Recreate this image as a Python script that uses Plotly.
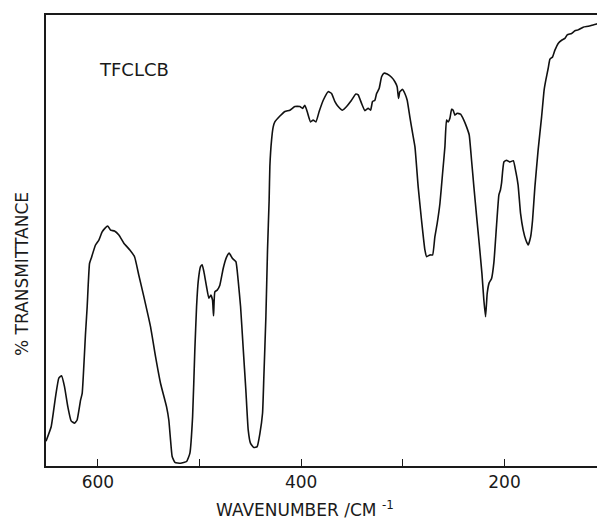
import plotly.graph_objects as go

wavenumber = [651.0, 645.9, 641.6, 638.4, 635.7, 632.8, 629.5, 626.3, 622.9, 620.4,
              617.0, 615.4, 612.1, 610.5, 608.2, 606.6, 602.3, 599.0, 595.8, 593.1,
              590.2, 587.5, 583.6, 579.3, 574.4, 568.5, 563.9, 559.7, 554.7, 548.2,
              543.2, 538.3, 532.4, 530.2, 528.5, 526.9, 524.2, 518.6, 512.7, 509.5,
              506.8, 504.6, 502.9, 501.3, 499.0, 497.4, 495.7, 493.1, 490.8, 488.8,
              487.2, 486.2, 484.9, 482.6, 480.0, 476.7, 473.4, 470.8, 467.5, 464.2,
              462.0, 459.6, 457.1, 454.4, 452.1, 449.8, 446.5, 443.3, 440.6, 438.0,
              436.7, 434.7, 433.1, 431.5, 430.8, 429.1, 427.5, 425.9, 420.9, 416.0,
              411.1, 406.2, 401.3, 398.6, 396.4, 394.1, 390.8, 388.2, 385.5, 382.3,
              378.3, 373.4, 370.1, 366.8, 363.6, 359.3, 355.3, 351.4, 346.2, 343.9,
              340.6, 337.3, 334.1, 331.7, 329.8, 327.5, 325.8, 323.3, 320.9, 318.6,
              315.4, 311.1, 307.8, 305.6, 304.2, 302.9, 300.2, 298.0, 295.7, 293.1,
              290.4, 288.1, 284.9, 281.6, 278.3, 276.6, 273.4, 270.7, 268.5, 266.2,
              263.5, 260.9, 258.6, 257.0, 255.4, 253.7, 252.0, 250.5, 248.8, 246.5,
              243.2, 240.0, 237.3, 234.7, 232.4, 230.1, 227.4, 224.9, 222.2, 220.3,
              218.6, 217.0, 215.1, 212.7, 210.4, 207.8, 205.5, 204.0, 202.9, 200.6,
              198.0, 194.7, 191.3, 188.8, 186.6, 184.2, 181.6, 179.0, 176.7, 174.3,
              172.4, 170.1, 166.9, 163.5, 161.0, 159.3, 157.0, 155.3, 152.7, 150.4,
              147.2, 143.8, 140.6, 138.3, 134.0, 130.7, 127.5, 122.6, 117.6, 112.7,
              109.4, 108.5]

transmittance = [5.5, 8.7, 15.4, 19.5, 20.0, 17.6, 13.1, 10.0, 9.5, 10.2,
                 14.6, 16.1, 29.5, 35.3, 44.9, 46.0, 49.0, 50.1, 51.9, 52.7,
                 53.2, 52.3, 52.1, 51.2, 49.4, 47.9, 46.4, 42.3, 37.5, 30.9,
                 24.2, 18.3, 13.1, 10.2, 5.8, 2.1, 0.8, 0.6, 1.0, 2.8,
                 10.9, 25.7, 35.3, 40.9, 44.2, 44.6, 43.1, 39.8, 37.2, 37.9,
                 36.8, 33.3, 38.6, 39.0, 40.1, 43.8, 46.3, 47.2, 46.0, 45.3,
                 41.2, 35.3, 26.4, 16.8, 8.0, 5.0, 4.1, 4.3, 7.2, 11.7,
                 19.8, 33.1, 47.9, 59.0, 66.4, 72.3, 75.2, 76.3, 77.6, 78.6,
                 78.9, 79.7, 79.7, 79.3, 80.0, 78.6, 76.3, 76.7, 76.3, 78.6,
                 81.1, 83.0, 82.6, 80.8, 79.7, 78.9, 79.7, 80.8, 82.5, 82.3,
                 80.4, 78.8, 79.3, 78.9, 80.8, 81.1, 82.6, 83.7, 86.3, 87.1,
                 86.9, 86.2, 85.2, 84.1, 81.5, 83.0, 83.5, 82.6, 81.1, 77.4,
                 73.8, 70.8, 61.9, 54.5, 47.9, 46.4, 46.8, 46.8, 50.8, 53.8,
                 58.2, 64.9, 70.8, 76.7, 76.3, 77.1, 79.1, 78.9, 77.8, 78.2,
                 78.0, 76.7, 75.2, 73.4, 67.8, 61.9, 55.3, 49.4, 42.7, 36.8,
                 33.1, 38.3, 40.6, 41.6, 45.2, 53.4, 60.1, 61.2, 62.7, 67.4,
                 67.8, 67.4, 67.7, 65.2, 62.3, 56.0, 52.3, 50.1, 49.0, 50.8,
                 54.5, 61.9, 70.1, 77.4, 83.4, 85.6, 88.2, 90.2, 90.7, 92.2,
                 93.7, 94.4, 94.8, 95.6, 95.9, 96.5, 96.7, 97.3, 97.5, 97.8,
                 98.0, 98.1]

tick_values = [600, 500, 400, 300, 200]
tick_labels = ["600", "", "400", "", "200"]

FONT = "DejaVu Sans, Liberation Sans, sans-serif"
INK = "#1a1a1a"

fig = go.Figure()
fig.add_trace(go.Scatter(
    x=wavenumber, y=transmittance, mode="lines",
    line=dict(color="#111111", width=1.6, shape="spline", smoothing=0.4),
    showlegend=False, hoverinfo="skip"))

fig.update_layout(
    width=597, height=521,
    margin=dict(l=46, r=0, t=15, b=55),
    paper_bgcolor="white", plot_bgcolor="white",
    font=dict(family=FONT, size=17, color=INK),
    xaxis=dict(range=[651, 109], tickvals=tick_values, ticktext=tick_labels,
               ticks="inside", ticklen=7, tickwidth=1.3, tickcolor=INK,
               showline=True, linecolor=INK, linewidth=1.5, mirror=True,
               showgrid=False, zeroline=False,
               tickfont=dict(family=FONT, size=17, color=INK)),
    yaxis=dict(range=[0, 100], showticklabels=False, ticks="",
               showline=True, linecolor=INK, linewidth=1.5, mirror=False,
               showgrid=False, zeroline=False),
    annotations=[
        dict(text="TFCLCB", xref="paper", yref="paper",
             x=(97 - 46) / 551, y=(466 - 69) / 451, showarrow=False,
             xanchor="left", yanchor="middle",
             font=dict(family=FONT, size=18, color=INK)),
        dict(text="% TRANSMITTANCE", xref="paper", yref="paper",
             x=(22 - 46) / 551, y=(466 - 274) / 451, showarrow=False,
             textangle=-90, xanchor="center", yanchor="middle",
             font=dict(family=FONT, size=17, color=INK)),
        dict(text="WAVENUMBER /CM <sup>-1</sup>", xref="paper", yref="paper",
             x=(214 - 46) / 551, y=(466 - 509) / 451, showarrow=False,
             xanchor="left", yanchor="middle",
             font=dict(family=FONT, size=17, color=INK)),
    ],
)

fig.write_html("out.html")
